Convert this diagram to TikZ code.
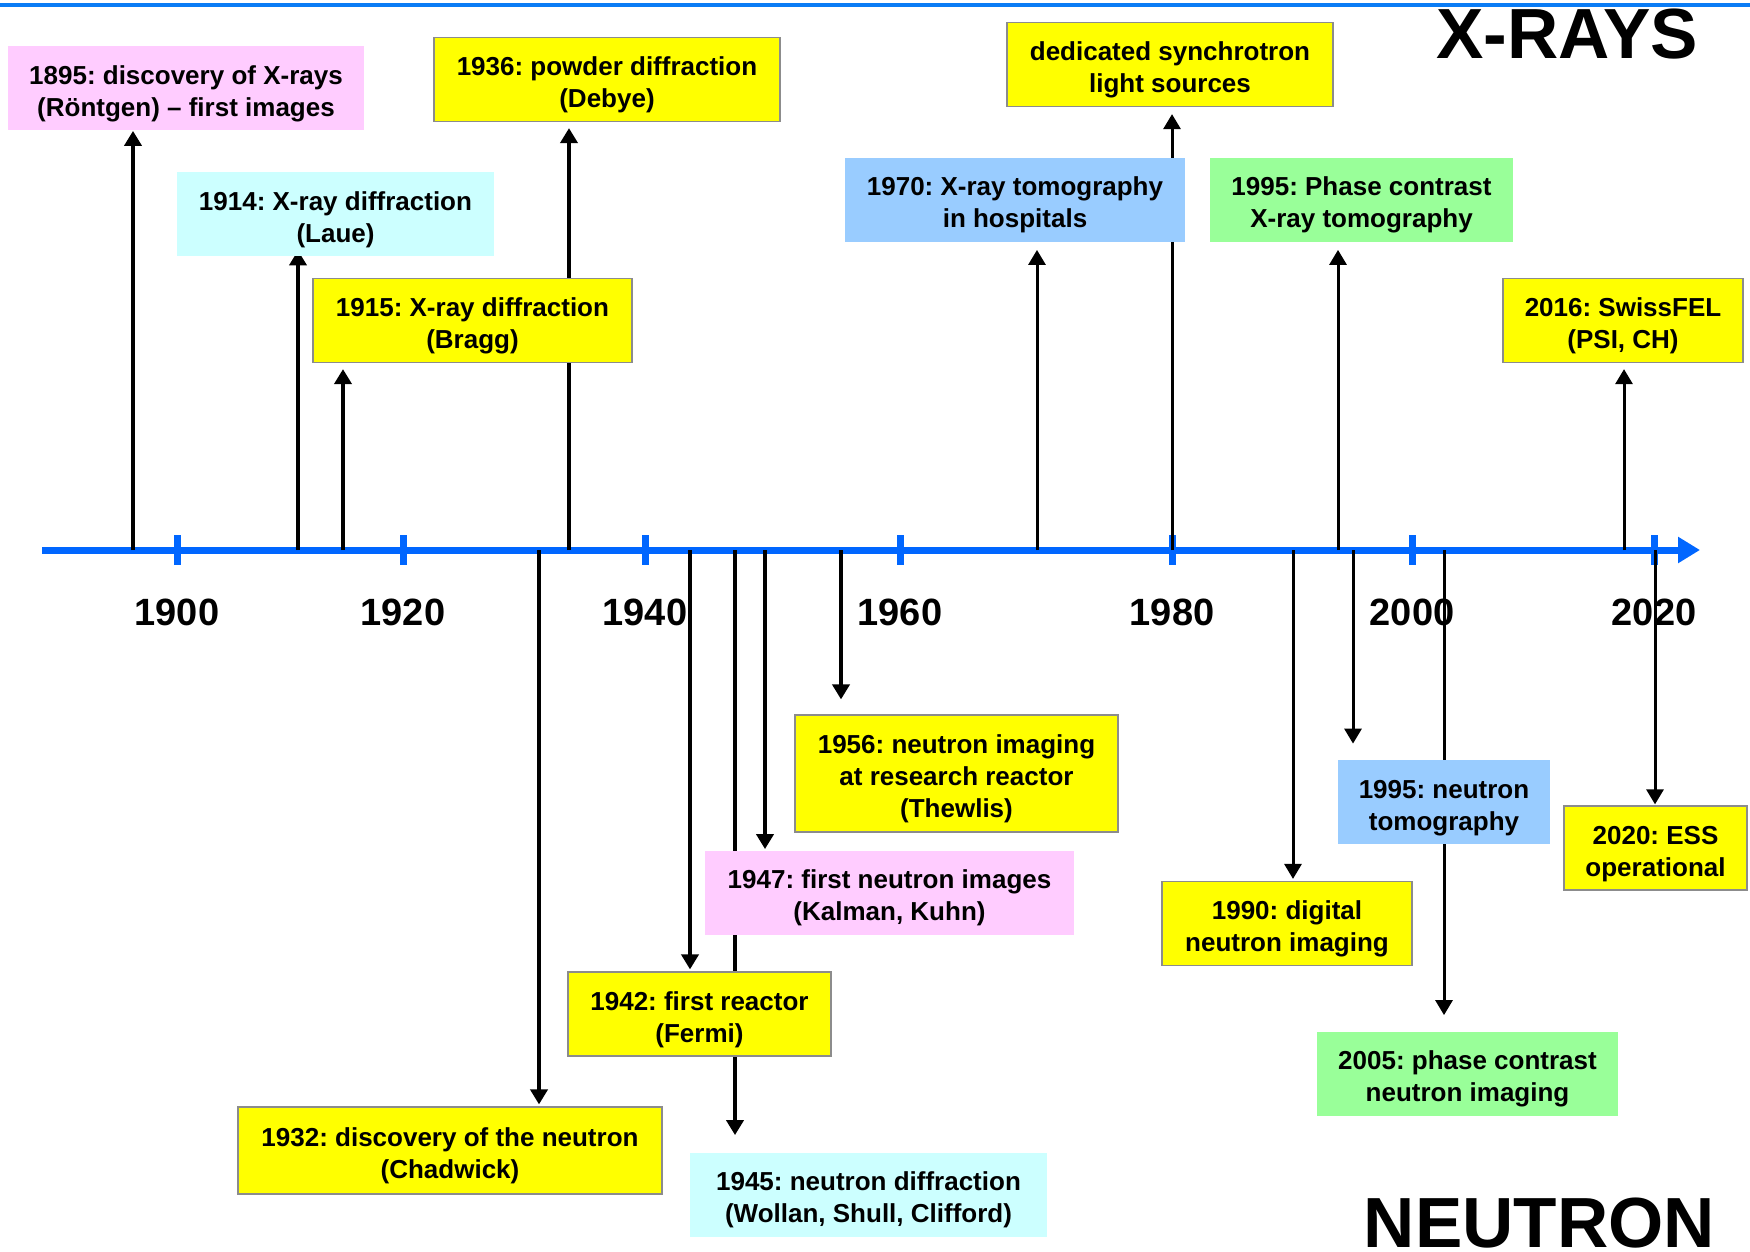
\documentclass[tikz,border=0pt]{standalone}
\usepackage{fontspec}
\setmainfont{Liberation Sans}
\usetikzlibrary{arrows.meta,positioning,backgrounds}
\definecolor{axisblue}{HTML}{0066FF}
\definecolor{topblue}{HTML}{0A7CF5}
\definecolor{evyellow}{HTML}{FFFF00}
\definecolor{evpink}{HTML}{FFCCFF}
\definecolor{evcyan}{HTML}{CCFFFF}
\definecolor{evblue}{HTML}{99CCFF}
\definecolor{evgreen}{HTML}{99FF99}
\definecolor{edgegray}{HTML}{8C8C8C}
\newcommand{\boxstrut}{\rule{0pt}{15pt}}
\frenchspacing

\begin{document}
\begin{tikzpicture}[x=0.5pt, y=-0.5pt,
    event/.style={rectangle, align=center, inner sep=2pt, minimum height=42pt,
        font=\bfseries\fontsize{13}{16}\selectfont},
    yellowbox/.style={event, fill=evyellow, draw=edgegray, line width=0.6pt},
    pinkbox/.style={event, fill=evpink},
    cyanbox/.style={event, fill=evcyan},
    bluebox/.style={event, fill=evblue},
    greenbox/.style={event, fill=evgreen},
    tipstyle/.style={-{Triangle[length=7.5pt, width=8.5pt]}},
    oldline/.style={tipstyle, line width=2pt},
    newline/.style={tipstyle, line width=1.5pt},
    yearlabel/.style={font=\bfseries\fontsize{19}{22}\selectfont},
    title/.style={font=\bfseries\fontsize{35.5}{40}\selectfont}]

    \useasboundingbox (0,0) rectangle (1750,1252);

    \node (b1895) [pinkbox, minimum width=178pt] at (186,88.5) {\boxstrut 1895: discovery of X-rays\\(Röntgen) \textendash{} first images};
    \node (b1936) [yellowbox, minimum width=173pt] at (607,79.5) {\boxstrut 1936: powder diffraction\\(Debye)};
    \node (b1914) [cyanbox, minimum width=158.5pt] at (335.5,214) {\boxstrut 1914: X-ray diffraction\\(Laue)};
    \node (b1915) [yellowbox, minimum width=159.5pt] at (472.5,320.5) {\boxstrut 1915: X-ray diffraction\\(Bragg)};
    \node (bsync) [yellowbox, minimum width=163pt] at (1170,64.5) {\boxstrut dedicated synchrotron\\light sources};
    \node (b1970) [bluebox, minimum width=170pt] at (1015,199.5) {\boxstrut 1970: X-ray tomography\\in hospitals};
    \node (b1995x) [greenbox, minimum width=151.5pt] at (1361.5,199.5) {\boxstrut 1995: Phase contrast\\X-ray tomography};
    \node (b2016) [yellowbox, minimum width=120pt] at (1623,320.5) {\boxstrut 2016: SwissFEL\\(PSI, CH)};

    \node (b1932) [yellowbox, minimum width=212pt, minimum height=43.5pt] at (450,1150.5) {\boxstrut 1932: discovery of the neutron\\(Chadwick)};
    \node (b1942) [yellowbox, minimum width=131.5pt] at (699.5,1014) {\boxstrut 1942: first reactor\\(Fermi)};
    \node (b1945) [cyanbox, minimum width=178.5pt] at (868.5,1194.5) {\boxstrut 1945: neutron diffraction\\(Wollan, Shull, Clifford)};
    \node (b1947) [pinkbox, minimum width=184.5pt] at (889.5,892.5) {\boxstrut 1947: first neutron images\\(Kalman, Kuhn)};
    \node (b1956) [yellowbox, minimum width=161.5pt, minimum height=58.5pt] at (956.5,773.5) {\boxstrut 1956: neutron imaging\\at research reactor\\(Thewlis)};
    \node (b1990) [yellowbox, minimum width=125pt] at (1287,923.5) {\boxstrut 1990: digital\\neutron imaging};
    \node (b1995n) [bluebox, minimum width=106pt] at (1444,802) {\boxstrut 1995: neutron\\tomography};
    \node (b2005) [greenbox, minimum width=150.5pt] at (1467.5,1073.5) {\boxstrut 2005: phase contrast\\neutron imaging};
    \node (b2020) [yellowbox, minimum width=91.5pt] at (1655.5,848) {\boxstrut 2020: ESS\\operational};

    \node (xrays) [title] at (1567,34) {X-RAYS};
    \node (neutron) [title] at (1539.5,1223) {NEUTRON};

    \begin{scope}[on background layer]
        \draw [topblue, line width=1.75pt] (0,5) -- (1750,5);

        \coordinate (axisstart) at (42,550);
        \coordinate (axisend) at (1700,550);
        \draw [axisblue, line width=3.5pt, -{Triangle[length=11pt, width=12.5pt]}] (axisstart) -- (axisend);
        \foreach \yr/\xx in {1900/177, 1920/403, 1940/645, 1960/900, 1980/1172, 2000/1412, 2020/1654} {
            \draw [axisblue, line width=3.5pt] (\xx,535) -- (\xx,565);
            \node (y\yr) [yearlabel] at (\xx,612) {\yr};
        }

        \coordinate (a1895) at (133,550);
        \coordinate (a1914) at (298,550);
        \coordinate (a1915) at (343,550);
        \coordinate (a1932) at (539,550);
        \coordinate (a1936) at (569,550);
        \coordinate (a1942) at (690,550);
        \coordinate (a1945) at (735,550);
        \coordinate (a1947) at (765,550);
        \coordinate (a1956) at (841,550);
        \coordinate (a1970) at (1037,550);
        \coordinate (async) at (1172,550);
        \coordinate (a1990) at (1293,550);
        \coordinate (a1995x) at (1338,550);
        \coordinate (a1995n) at (1353,550);
        \coordinate (a2005) at (1444,550);
        \coordinate (a2016) at (1624,550);
        \coordinate (a2020) at (1655,550);

        \draw [oldline] (a1895) -- (a1895 |- b1895.south);
        \draw [oldline, shorten >=-3pt] (a1914) -- (a1914 |- b1914.south);
        \draw [oldline, shorten >=3pt] (a1915) -- (a1915 |- b1915.south);
        \draw [oldline, shorten >=3pt] (a1936) -- (a1936 |- b1936.south);
        \draw [newline, shorten >=4pt] (a1970) -- (a1970 |- b1970.south);
        \draw [newline, shorten >=3.5pt] (async) -- (async |- bsync.south);
        \draw [newline, shorten >=4pt] (a1995x) -- (a1995x |- b1995x.south);
        \draw [newline, shorten >=3pt] (a2016) -- (a2016 |- b2016.south);

        \draw [oldline, shorten >=1pt] (a1932) -- (a1932 |- b1932.north);
        \draw [oldline, shorten >=1pt] (a1942) -- (a1942 |- b1942.north);
        \draw [oldline, shorten >=8.5pt] (a1945) -- (a1945 |- b1945.north);
        \draw [oldline, shorten >=0.5pt] (a1947) -- (a1947 |- b1947.north);
        \draw [oldline, shorten >=7.5pt] (a1956) -- (a1956 |- b1956.north);
        \draw [newline, shorten >=1pt] (a1990) -- (a1990 |- b1990.north);
        \draw [newline, shorten >=8pt] (a1995n) -- (a1995n |- b1995n.north);
        \draw [newline, shorten >=8pt] (a2005) -- (a2005 |- b2005.north);
        \draw [newline, shorten >=0.5pt] (a2020) -- (a2020 |- b2020.north);
    \end{scope}

\end{tikzpicture}
\end{document}
